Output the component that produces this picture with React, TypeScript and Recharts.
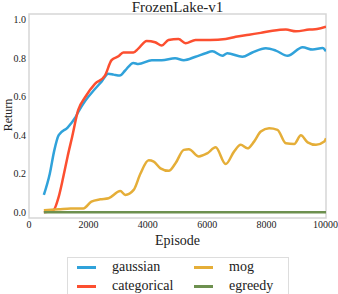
import { LineChart, Line, XAxis, YAxis, ReferenceArea } from 'recharts'

// values
const gaussianEpisodes = [500, 700, 850, 1000, 1300, 1550, 1655, 1900, 2220, 2450, 2670, 2850, 3060, 3230, 3514, 3680, 4135, 4470, 4920, 5213, 5608, 5946, 6172, 6510, 6678, 7185, 7520, 7973, 8311, 8705, 9213, 9550, 9888, 10000]
const gaussianReturns = [0.09, 0.2, 0.32, 0.4, 0.44, 0.49, 0.52, 0.58, 0.64, 0.68, 0.72, 0.715, 0.71, 0.735, 0.776, 0.77, 0.79, 0.79, 0.8, 0.79, 0.808, 0.826, 0.836, 0.813, 0.826, 0.808, 0.83, 0.852, 0.84, 0.813, 0.857, 0.845, 0.853, 0.836]

const categoricalEpisodes = [500, 820, 1000, 1150, 1300, 1450, 1655, 1900, 2220, 2557, 2780, 3010, 3175, 3514, 3680, 3963, 4245, 4470, 4696, 5034, 5270, 5608, 6100, 6622, 6960, 7410, 7800, 8200, 8650, 8986, 9436, 9700, 10000]
const categoricalReturns = [0.0, 0.01, 0.08, 0.18, 0.29, 0.39, 0.53, 0.6, 0.667, 0.71, 0.79, 0.81, 0.83, 0.83, 0.85, 0.89, 0.883, 0.866, 0.895, 0.9, 0.878, 0.895, 0.895, 0.9, 0.912, 0.922, 0.932, 0.943, 0.949, 0.94, 0.949, 0.952, 0.964]

const mogEpisodes = [500, 1000, 1400, 1830, 2100, 2400, 2680, 3074, 3243, 3524, 3750, 4030, 4200, 4426, 4706, 4932, 5213, 5382, 5720, 6003, 6284, 6622, 6903, 7128, 7354, 7578, 7804, 8085, 8367, 8648, 8930, 9155, 9382, 9662, 9943, 10000]
const mogReturns = [0.01, 0.015, 0.02, 0.02, 0.055, 0.067, 0.073, 0.11, 0.09, 0.116, 0.2, 0.27, 0.263, 0.228, 0.215, 0.254, 0.324, 0.327, 0.29, 0.306, 0.337, 0.25, 0.315, 0.35, 0.332, 0.367, 0.419, 0.436, 0.428, 0.358, 0.355, 0.4, 0.363, 0.35, 0.367, 0.384]

const egreedyEpisodes = [500, 10000]
const egreedyReturns = [0, 0]

const xTicks = [0, 2000, 4000, 6000, 8000, 10000]
const yTicks = [0, 0.2, 0.4, 0.6, 0.8, 1.0]

const zip = (xs: number[], ys: number[]) => xs.map((x, i) => ({ episode: x, value: ys[i] }))

const series = [
  { name: 'gaussian', color: '#30a2da', data: zip(gaussianEpisodes, gaussianReturns) },
  { name: 'categorical', color: '#fc4f30', data: zip(categoricalEpisodes, categoricalReturns) },
  { name: 'mog', color: '#e5ae38', data: zip(mogEpisodes, mogReturns) },
  { name: 'egreedy', color: '#6d904f', data: zip(egreedyEpisodes, egreedyReturns) },
]

const serif = 'Liberation Serif'
const tickStyle = { fill: '#222', fontSize: 10, fontFamily: serif }

function LegendBox() {
  const item = (s: (typeof series)[number], left: number, top: number) => (
    <div key={s.name} style={{ position: 'absolute', left, top, display: 'flex', alignItems: 'center' }}>
      <div style={{ width: 19, height: 3, background: s.color }} />
      <span style={{ marginLeft: 16, fontSize: 14, fontFamily: serif, color: '#222', lineHeight: '14px' }}>{s.name}</span>
    </div>
  )
  return (
    <div
      style={{
        position: 'absolute',
        left: 67,
        top: 257,
        width: 222,
        height: 44,
        border: '1px solid #ddd',
        boxSizing: 'border-box',
      }}
    >
      {item(series[0], 9, 2)}
      {item(series[1], 9, 21)}
      {item(series[2], 126, 2)}
      {item(series[3], 126, 21)}
    </div>
  )
}

export default function App() {
  return (
    <div style={{ position: 'fixed', left: 0, top: 0, width: 338, height: 294, background: '#fff', overflow: 'hidden', fontFamily: serif }}>
      <div
        style={{
          position: 'absolute',
          left: 0,
          top: 0,
          width: 355,
          textAlign: 'center',
          fontSize: 15,
          lineHeight: '14px',
          color: '#222',
        }}
      >
        FrozenLake-v1
      </div>
      <div
        style={{
          position: 'absolute',
          left: 8,
          top: 115,
          transform: 'translate(-50%, -50%) rotate(-90deg)',
          fontSize: 12,
          lineHeight: '12px',
          color: '#222',
        }}
      >
        Return
      </div>
      <div
        style={{
          position: 'absolute',
          left: 0,
          top: 233,
          width: 355,
          textAlign: 'center',
          fontSize: 14,
          color: '#222',
        }}
      >
        Episode
      </div>
      <LineChart width={338} height={250} margin={{ top: 14, right: 12, bottom: 0, left: 0 }}>
        <XAxis
          type="number"
          dataKey="episode"
          domain={[0, 10000]}
          ticks={xTicks}
          allowDataOverflow
          axisLine={false}
          tickLine={false}
          tickSize={0}
          tickMargin={3}
          height={32}
          tick={tickStyle}
        />
        <YAxis
          type="number"
          dataKey="value"
          domain={[-0.03, 1.03]}
          ticks={yTicks}
          tickFormatter={(v: number) => v.toFixed(1)}
          allowDataOverflow
          axisLine={false}
          tickLine={false}
          tickSize={0}
          tickMargin={3}
          width={29}
          tick={tickStyle}
        />
        <ReferenceArea x1={0} x2={10000} y1={-0.03} y2={1.03} fill="none" stroke="#d6d6d6" strokeWidth={1.5} />
        {series.map((s) => (
          <Line
            key={s.name}
            data={s.data}
            dataKey="value"
            name={s.name}
            type="monotone"
            stroke={s.color}
            strokeWidth={2.5}
            dot={false}
            isAnimationActive={false}
          />
        ))}
      </LineChart>
      <LegendBox />
    </div>
  )
}
